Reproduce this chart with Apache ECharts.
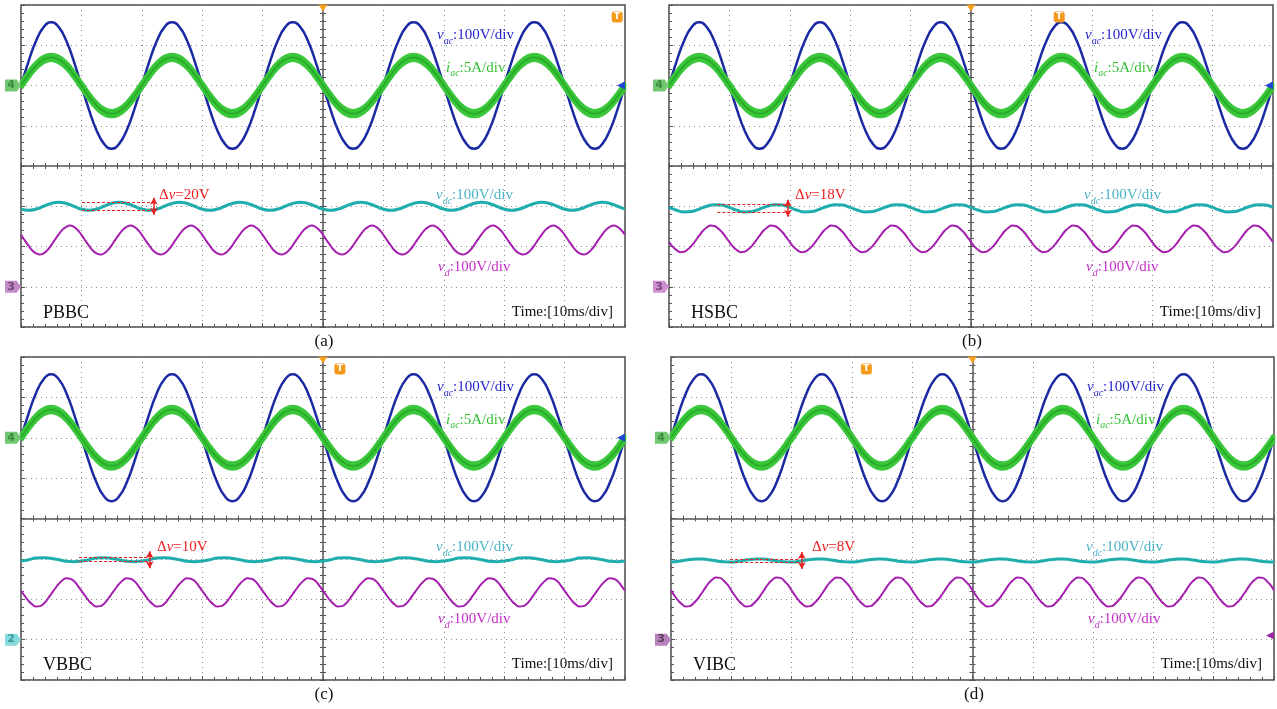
<!DOCTYPE html>
<html>
<head>
<meta charset="utf-8">
<script src="https://cdn.jsdelivr.net/npm/echarts@6/dist/echarts.min.js"></script>
<style>
html, body { margin: 0; background: #fff; }
#chart { width: 1277px; height: 709px; }
</style>
</head>
<body>
<div id="chart"></div>
<script>
// sample times in ms, trigger (centre line) at 0
const tDc = [-50, -48.75, -47.5, -46.25, -45, -43.75, -42.5, -41.25, -40, -38.75, -37.5, -36.25, -35, -33.75,
    -32.5, -31.25, -30, -28.75, -27.5, -26.25, -25, -23.75, -22.5, -21.25, -20, -18.75, -17.5, -16.25, -15,
    -13.75, -12.5, -11.25, -10, -8.75, -7.5, -6.25, -5, -3.75, -2.5, -1.25, 0, 1.25, 2.5, 3.75, 5, 6.25, 7.5,
    8.75, 10, 11.25, 12.5, 13.75, 15, 16.25, 17.5, 18.75, 20, 21.25, 22.5, 23.75, 25, 26.25, 27.5, 28.75, 30,
    31.25, 32.5, 33.75, 35, 36.25, 37.5, 38.75, 40, 41.25, 42.5, 43.75, 45, 46.25, 47.5, 48.75, 50];
const tFine = [
    -50, -49.375, -48.75, -48.125, -47.5, -46.875, -46.25, -45.625, -45, -44.375, -43.75, -43.125, -42.5, -41.875, -41.25, -40.625,
    -40, -39.375, -38.75, -38.125, -37.5, -36.875, -36.25, -35.625, -35, -34.375, -33.75, -33.125, -32.5, -31.875, -31.25, -30.625,
    -30, -29.375, -28.75, -28.125, -27.5, -26.875, -26.25, -25.625, -25, -24.375, -23.75, -23.125, -22.5, -21.875, -21.25, -20.625,
    -20, -19.375, -18.75, -18.125, -17.5, -16.875, -16.25, -15.625, -15, -14.375, -13.75, -13.125, -12.5, -11.875, -11.25, -10.625,
    -10, -9.375, -8.75, -8.125, -7.5, -6.875, -6.25, -5.625, -5, -4.375, -3.75, -3.125, -2.5, -1.875, -1.25, -0.625,
    0, 0.625, 1.25, 1.875, 2.5, 3.125, 3.75, 4.375, 5, 5.625, 6.25, 6.875, 7.5, 8.125, 8.75, 9.375,
    10, 10.625, 11.25, 11.875, 12.5, 13.125, 13.75, 14.375, 15, 15.625, 16.25, 16.875, 17.5, 18.125, 18.75, 19.375,
    20, 20.625, 21.25, 21.875, 22.5, 23.125, 23.75, 24.375, 25, 25.625, 26.25, 26.875, 27.5, 28.125, 28.75, 29.375,
    30, 30.625, 31.25, 31.875, 32.5, 33.125, 33.75, 34.375, 35, 35.625, 36.25, 36.875, 37.5, 38.125, 38.75, 39.375,
    40, 40.625, 41.25, 41.875, 42.5, 43.125, 43.75, 44.375, 45, 45.625, 46.25, 46.875, 47.5, 48.125, 48.75, 49.375,
    50];

// grid voltage (V) and current (A) on tDc, same in all four captures
const vac = [0, 60, 111, 145, 157, 145, 111, 60, 0, -60, -111, -145, -157, -145, -111, -60,
    0, 60, 111, 145, 157, 145, 111, 60, 0, -60, -111, -145, -157, -145, -111, -60,
    0, 60, 111, 145, 157, 145, 111, 60, 0, -60, -111, -145, -157, -145, -111, -60,
    0, 60, 111, 145, 157, 145, 111, 60, 0, -60, -111, -145, -157, -145, -111, -60,
    0, 60, 111, 145, 157, 145, 111, 60, 0, -60, -111, -145, -157, -145, -111, -60, 0];
const iac = [0, 1.34, 2.47, 3.23, 3.5, 3.23, 2.47, 1.34, 0, -1.34, -2.47, -3.23, -3.5, -3.23, -2.47, -1.34,
    0, 1.34, 2.47, 3.23, 3.5, 3.23, 2.47, 1.34, 0, -1.34, -2.47, -3.23, -3.5, -3.23, -2.47, -1.34,
    0, 1.34, 2.47, 3.23, 3.5, 3.23, 2.47, 1.34, 0, -1.34, -2.47, -3.23, -3.5, -3.23, -2.47, -1.34,
    0, 1.34, 2.47, 3.23, 3.5, 3.23, 2.47, 1.34, 0, -1.34, -2.47, -3.23, -3.5, -3.23, -2.47, -1.34,
    0, 1.34, 2.47, 3.23, 3.5, 3.23, 2.47, 1.34, 0, -1.34, -2.47, -3.23, -3.5, -3.23, -2.47, -1.34, 0];
// half width of the switching ripple band on iac (A)
const iacRipple = 0.3;

// dc bus voltage vdc (V) on tDc
const vdcA = [193, 190, 193, 200, 207, 210, 207, 200, 193, 190, 193, 200, 207, 210, 207, 200,
    193, 190, 193, 200, 207, 210, 207, 200, 193, 190, 193, 200, 207, 210, 207, 200,
    193, 190, 193, 200, 207, 210, 207, 200, 193, 190, 193, 200, 207, 210, 207, 200,
    193, 190, 193, 200, 207, 210, 207, 200, 193, 190, 193, 200, 207, 210, 207, 200,
    193, 190, 193, 200, 207, 210, 207, 200, 193, 190, 193, 200, 207, 210, 207, 200, 193];
const vdcB = [197, 190, 186, 187, 193, 200, 204, 203, 197, 190, 186, 187, 193, 200, 204, 203,
    197, 190, 186, 187, 193, 200, 204, 203, 197, 190, 186, 187, 193, 200, 204, 203,
    197, 190, 186, 187, 193, 200, 204, 203, 197, 190, 186, 187, 193, 200, 204, 203,
    197, 190, 186, 187, 193, 200, 204, 203, 197, 190, 186, 187, 193, 200, 204, 203,
    197, 190, 186, 187, 193, 200, 204, 203, 197, 190, 186, 187, 193, 200, 204, 203, 197];
const vdcC = [195, 198, 202, 203, 201, 198, 194, 193, 195, 198, 202, 203, 201, 198, 194, 193,
    195, 198, 202, 203, 201, 198, 194, 193, 195, 198, 202, 203, 201, 198, 194, 193,
    195, 198, 202, 203, 201, 198, 194, 193, 195, 198, 202, 203, 201, 198, 194, 193,
    195, 198, 202, 203, 201, 198, 194, 193, 195, 198, 202, 203, 201, 198, 194, 193,
    195, 198, 202, 203, 201, 198, 194, 193, 195, 198, 202, 203, 201, 198, 194, 193, 195];
const vdcD = [192, 194, 197, 199, 200, 198, 195, 193, 192, 194, 197, 199, 200, 198, 195, 193,
    192, 194, 197, 199, 200, 198, 195, 193, 192, 194, 197, 199, 200, 198, 195, 193,
    192, 194, 197, 199, 200, 198, 195, 193, 192, 194, 197, 199, 200, 198, 195, 193,
    192, 194, 197, 199, 200, 198, 195, 193, 192, 194, 197, 199, 200, 198, 195, 193,
    192, 194, 197, 199, 200, 198, 195, 193, 192, 194, 197, 199, 200, 198, 195, 193, 192];

// decoupling capacitor voltage vd (V) on tFine
const vdA = [129, 115, 102, 90, 83, 80, 83, 91, 103, 117, 130, 142, 149, 152, 149, 141,
    129, 115, 102, 90, 83, 80, 83, 91, 103, 117, 130, 142, 149, 152, 149, 141,
    129, 115, 102, 90, 83, 80, 83, 91, 103, 117, 130, 142, 149, 152, 149, 141,
    129, 115, 102, 90, 83, 80, 83, 91, 103, 117, 130, 142, 149, 152, 149, 141,
    129, 115, 102, 90, 83, 80, 83, 91, 103, 117, 130, 142, 149, 152, 149, 141,
    129, 115, 102, 90, 83, 80, 83, 91, 103, 117, 130, 142, 149, 152, 149, 141,
    129, 115, 102, 90, 83, 80, 83, 91, 103, 117, 130, 142, 149, 152, 149, 141,
    129, 115, 102, 90, 83, 80, 83, 91, 103, 117, 130, 142, 149, 152, 149, 141,
    129, 115, 102, 90, 83, 80, 83, 91, 103, 117, 130, 142, 149, 152, 149, 141,
    129, 115, 102, 90, 83, 80, 83, 91, 103, 117, 130, 142, 149, 152, 149, 141, 129];
const vdB = [111, 99, 91, 86, 87, 93, 102, 114, 127, 139, 147, 152, 151, 145, 136, 124,
    111, 99, 91, 86, 87, 93, 102, 114, 127, 139, 147, 152, 151, 145, 136, 124,
    111, 99, 91, 86, 87, 93, 102, 114, 127, 139, 147, 152, 151, 145, 136, 124,
    111, 99, 91, 86, 87, 93, 102, 114, 127, 139, 147, 152, 151, 145, 136, 124,
    111, 99, 91, 86, 87, 93, 102, 114, 127, 139, 147, 152, 151, 145, 136, 124,
    111, 99, 91, 86, 87, 93, 102, 114, 127, 139, 147, 152, 151, 145, 136, 124,
    111, 99, 91, 86, 87, 93, 102, 114, 127, 139, 147, 152, 151, 145, 136, 124,
    111, 99, 91, 86, 87, 93, 102, 114, 127, 139, 147, 152, 151, 145, 136, 124,
    111, 99, 91, 86, 87, 93, 102, 114, 127, 139, 147, 152, 151, 145, 136, 124,
    111, 99, 91, 86, 87, 93, 102, 114, 127, 139, 147, 152, 151, 145, 136, 124, 111];
const vdC = [121, 108, 96, 87, 82, 83, 89, 100, 113, 126, 138, 147, 152, 151, 145, 134,
    121, 108, 96, 87, 82, 83, 89, 100, 113, 126, 138, 147, 152, 151, 145, 134,
    121, 108, 96, 87, 82, 83, 89, 100, 113, 126, 138, 147, 152, 151, 145, 134,
    121, 108, 96, 87, 82, 83, 89, 100, 113, 126, 138, 147, 152, 151, 145, 134,
    121, 108, 96, 87, 82, 83, 89, 100, 113, 126, 138, 147, 152, 151, 145, 134,
    121, 108, 96, 87, 82, 83, 89, 100, 113, 126, 138, 147, 152, 151, 145, 134,
    121, 108, 96, 87, 82, 83, 89, 100, 113, 126, 138, 147, 152, 151, 145, 134,
    121, 108, 96, 87, 82, 83, 89, 100, 113, 126, 138, 147, 152, 151, 145, 134,
    121, 108, 96, 87, 82, 83, 89, 100, 113, 126, 138, 147, 152, 151, 145, 134,
    121, 108, 96, 87, 82, 83, 89, 100, 113, 126, 138, 147, 152, 151, 145, 134, 121];
const vdD = [122, 108, 96, 87, 82, 83, 90, 100, 113, 127, 140, 149, 154, 153, 146, 136,
    122, 108, 96, 87, 82, 83, 90, 100, 113, 127, 140, 149, 154, 153, 146, 136,
    122, 108, 96, 87, 82, 83, 90, 100, 113, 127, 140, 149, 154, 153, 146, 136,
    122, 108, 96, 87, 82, 83, 90, 100, 113, 127, 140, 149, 154, 153, 146, 136,
    122, 108, 96, 87, 82, 83, 90, 100, 113, 127, 140, 149, 154, 153, 146, 136,
    122, 108, 96, 87, 82, 83, 90, 100, 113, 127, 140, 149, 154, 153, 146, 136,
    122, 108, 96, 87, 82, 83, 90, 100, 113, 127, 140, 149, 154, 153, 146, 136,
    122, 108, 96, 87, 82, 83, 90, 100, 113, 127, 140, 149, 154, 153, 146, 136,
    122, 108, 96, 87, 82, 83, 90, 100, 113, 127, 140, 149, 154, 153, 146, 136,
    122, 108, 96, 87, 82, 83, 90, 100, 113, 127, 140, 149, 154, 153, 146, 136, 122];

// scope channel settings: units per division and ground marker position (div)
const chVac = { scale: 100, offset: 2 };
const chIac = { scale: 5, offset: 2 };
const chDc = { scale: 100, offset: -3 };

const SERIF = '"Liberation Serif", "Times New Roman", serif';

const panels = [
    { left: 21, top: 5, width: 604, height: 322, name: 'PBBC', cap: '(a)', vdc: vdcA, vd: vdA,
      dv: { hi: 210, lo: 190, t0: -39.9, t1: -28.3, text: '20V', lx: 138 },
      trig: [48.7, 3.7], refOn: 'vd', ref: { n: '3', fill: '#c58ac8', ink: '#6e4a70' }, arrow: 'vac' },
    { left: 669, top: 5, width: 604, height: 322, name: 'HSBC', cap: '(b)', vdc: vdcB, vd: vdB,
      dv: { hi: 204, lo: 186, t0: -42.0, t1: -30.6, text: '18V', lx: 126 },
      trig: [14.6, 3.7], refOn: 'vd', ref: { n: '3', fill: '#cf8fd2', ink: '#7a4a7c' }, arrow: 'vac' },
    { left: 21, top: 357, width: 604, height: 323, name: 'VBBC', cap: '(c)', vdc: vdcC, vd: vdC,
      dv: { hi: 203, lo: 193, t0: -40.4, t1: -29.0, text: '10V', lx: 136 },
      trig: [2.8, 3.7], refOn: 'vdc', ref: { n: '2', fill: '#86dada', ink: '#3a9a9a' }, arrow: 'vac' },
    { left: 671, top: 357, width: 603, height: 323, name: 'VIBC', cap: '(d)', vdc: vdcD, vd: vdD,
      dv: { hi: 200, lo: 192, t0: -40.2, t1: -28.6, text: '8V', lx: 141 },
      trig: [-17.6, 3.7], refOn: 'vd', ref: { n: '3', fill: '#b77fbb', ink: '#5e3f61' }, arrow: 'vd' }
];

function toDiv(ts, vals, ch, shift) {
    return ts.map((t, i) => [t, (vals[i] + (shift || 0)) / ch.scale + ch.offset]);
}

function richStyle(color) {
    return {
        v: { fill: color, fontFamily: SERIF, fontStyle: 'italic', fontSize: 15, lineHeight: 18, verticalAlign: 'top' },
        s: { fill: color, fontFamily: SERIF, fontStyle: 'italic', fontSize: 10, lineHeight: 10, verticalAlign: 'bottom' },
        n: { fill: color, fontFamily: SERIF, fontSize: 15, lineHeight: 18, verticalAlign: 'top' }
    };
}

function label(x, y, text, color) {
    return {
        type: 'text', x: x, y: y, z: 100, silent: true,
        style: { text: text, rich: richStyle(color), fill: color, font: '15px ' + SERIF,
                 align: 'left', verticalAlign: 'middle', textAlign: 'left', textVerticalAlign: 'middle' }
    };
}

function plain(x, y, text, size, align) {
    return {
        type: 'text', x: x, y: y, z: 100, silent: true,
        style: { text: text, fill: '#111', font: size + 'px ' + SERIF,
                 align: align, verticalAlign: 'middle', textAlign: align, textVerticalAlign: 'middle' }
    };
}

const flagPath = 'path://M0,0 L11,0 L15,6 L11,12 L0,12 Z';

const option = { animation: false, grid: [], xAxis: [], yAxis: [], series: [], graphic: [] };

panels.forEach((p, k) => {
    option.grid.push({ left: p.left, top: p.top, width: p.width, height: p.height, show: true,
        borderColor: '#4a4a4a', borderWidth: 1.5, backgroundColor: '#fff' });

    const tickStyle = { color: '#555', width: 1 };
    const xBase = { type: 'value', gridIndex: k, min: -50, max: 50, interval: 10,
        axisLabel: { show: false }, splitLine: { show: false } };
    const yBase = { type: 'value', gridIndex: k, min: -4, max: 4, interval: 1,
        axisLabel: { show: false }, splitLine: { show: false } };
    const grat = { show: true, lineStyle: { color: '#8c8c8c', width: 1, type: [1, 4] } };

    // frame ticks and dotted graticule
    option.xAxis.push(Object.assign({}, xBase, { position: 'bottom', splitLine: grat,
        axisLine: { show: false, onZero: false },
        axisTick: { show: true, inside: true, length: 4, lineStyle: tickStyle },
        minorTick: { show: true, splitNumber: 5, length: 3, lineStyle: tickStyle } }));
    // centre horizontal line, ticks on both sides
    option.xAxis.push(Object.assign({}, xBase, { position: 'bottom',
        axisLine: { show: true, onZero: true, lineStyle: { color: '#555', width: 1.5 } },
        axisTick: { show: true, inside: false, length: 3, lineStyle: tickStyle },
        minorTick: { show: true, splitNumber: 5, length: 3, lineStyle: tickStyle } }));
    option.xAxis.push(Object.assign({}, xBase, { position: 'top',
        axisLine: { show: false, onZero: true },
        axisTick: { show: true, inside: false, length: 3, lineStyle: tickStyle },
        minorTick: { show: true, splitNumber: 5, length: 3, lineStyle: tickStyle } }));

    option.yAxis.push(Object.assign({}, yBase, { position: 'left', splitLine: grat,
        axisLine: { show: false, onZero: false },
        axisTick: { show: true, inside: true, length: 4, lineStyle: tickStyle },
        minorTick: { show: true, splitNumber: 5, length: 3, lineStyle: tickStyle } }));
    option.yAxis.push(Object.assign({}, yBase, { position: 'left',
        axisLine: { show: true, onZero: true, lineStyle: { color: '#555', width: 1.5 } },
        axisTick: { show: true, inside: false, length: 3, lineStyle: tickStyle },
        minorTick: { show: true, splitNumber: 5, length: 3, lineStyle: tickStyle } }));
    option.yAxis.push(Object.assign({}, yBase, { position: 'right',
        axisLine: { show: false, onZero: true },
        axisTick: { show: true, inside: false, length: 3, lineStyle: tickStyle },
        minorTick: { show: true, splitNumber: 5, length: 3, lineStyle: tickStyle } }));

    const ax = { xAxisIndex: 3 * k, yAxisIndex: 3 * k, type: 'line', smooth: 0.5, symbol: 'none', silent: true };

    const refMark = {
        coord: [-50, chDc.offset], symbol: flagPath, symbolSize: [16, 12],
        symbolOffset: [-8, 0], itemStyle: { color: p.ref.fill },
        label: { show: true, position: 'inside', formatter: p.ref.n, color: p.ref.ink, fontSize: 11,
                 fontWeight: 'bold', fontFamily: 'DejaVu Sans', offset: [-2, 0] }
    };
    const arrowMark = (y, color) => ({ coord: [50, y], symbol: 'triangle', symbolRotate: 90,
        symbolSize: [8, 8], symbolOffset: [-4, 0], itemStyle: { color: color }, label: { show: false } });

    const vacMarks = [
        { coord: [-50, chVac.offset], symbol: flagPath, symbolSize: [16, 12], symbolOffset: [-8, 0],
          itemStyle: { color: '#72c872' },
          label: { show: true, position: 'inside', formatter: '4', color: '#3d8a3d', fontSize: 11,
                   fontWeight: 'bold', fontFamily: 'DejaVu Sans', offset: [-2, 0] } },
        { coord: [0, 4], symbol: 'triangle', symbolRotate: 180, symbolSize: [9, 7], symbolOffset: [0, 3],
          itemStyle: { color: '#f5a01e' }, label: { show: false } },
        { coord: p.trig, symbol: 'roundRect', symbolSize: [11, 11], itemStyle: { color: '#f39a1c' },
          label: { show: true, position: 'inside', formatter: 'T', color: '#fff', fontSize: 9,
                   fontWeight: 'bold', fontFamily: 'DejaVu Sans' } }
    ];
    if (p.arrow === 'vac') vacMarks.push(arrowMark(chVac.offset, '#2143d6'));

    option.series.push(Object.assign({}, ax, { name: 'vac', data: toDiv(tDc, vac, chVac),
        lineStyle: { color: '#1b2aa3', width: 2.5 },
        markPoint: { silent: true, data: vacMarks } }));

    // current: ripple band (upper / lower envelope), bright fill, darker core on top
    option.series.push(Object.assign({}, ax, { name: 'iacHi', data: toDiv(tDc, iac, chIac, iacRipple),
        lineStyle: { color: '#3cc83c', width: 4.5 } }));
    option.series.push(Object.assign({}, ax, { name: 'iacLo', data: toDiv(tDc, iac, chIac, -iacRipple),
        lineStyle: { color: '#3cc83c', width: 4.5 } }));
    option.series.push(Object.assign({}, ax, { name: 'iac', data: toDiv(tDc, iac, chIac),
        lineStyle: { color: '#35c235', width: 4 } }));
    option.series.push(Object.assign({}, ax, { name: 'iacCore', data: toDiv(tDc, iac, chIac),
        lineStyle: { color: '#1f961f', width: 1.2, opacity: 0.7 } }));

    const dv = p.dv;
    const dvy = (v) => v / chDc.scale + chDc.offset;
    const mid = (dv.hi + dv.lo) / 2;
    const dash = { color: '#e52222', width: 1, type: [3, 2] };
    const solid = { color: '#e52222', width: 1.5, type: 'solid' };
    option.series.push(Object.assign({}, ax, { name: 'vdc', data: toDiv(tDc, p.vdc, chDc),
        lineStyle: { color: '#1fadad', width: 3 },
        markPoint: { silent: true, data: p.refOn === 'vdc' ? [refMark] : [] },
        markLine: { silent: true, symbol: 'none', label: { show: false }, data: [
            [{ coord: [dv.t0, dvy(dv.hi)], lineStyle: dash }, { coord: [dv.t1, dvy(dv.hi)], lineStyle: dash }],
            [{ coord: [dv.t0, dvy(dv.lo)], lineStyle: dash }, { coord: [dv.t1, dvy(dv.lo)], lineStyle: dash }],
            [{ coord: [dv.t1 + 0.3, dvy(mid + 21)], symbol: 'arrow', symbolSize: [6, 7], lineStyle: solid },
             { coord: [dv.t1 + 0.3, dvy(mid - 21)], symbol: 'arrow', symbolSize: [6, 7], lineStyle: solid }]
        ] } }));

    const vdMarks = [];
    if (p.refOn === 'vd') vdMarks.push(refMark);
    if (p.arrow === 'vd') vdMarks.push(arrowMark(-2.9, '#9a2aa0'));
    option.series.push(Object.assign({}, ax, { name: 'vd', data: toDiv(tFine, p.vd, chDc),
        lineStyle: { color: '#a41fad', width: 2 },
        markPoint: { silent: true, data: vdMarks } }));

    // texts
    const L = p.left, T = p.top;
    option.graphic.push(label(L + 416, T + 32, '{v|v}{s|ac}{n|:100V/div}', '#2424cc'));
    option.graphic.push(label(L + 425, T + 64.5, '{v|i}{s|ac}{n|:5A/div}', '#35bf35'));
    option.graphic.push(label(L + 415, T + 192, '{v|v}{s|dc}{n|:100V/div}', '#4eb2c6'));
    option.graphic.push(label(L + 417, T + 264, '{v|v}{s|d}{n|:100V/div}', '#c42fc4'));
    option.graphic.push(label(L + dv.lx, T + 191.5, '{n|Δ}{v|v}{n|=' + dv.text + '}', '#ee2020'));
    option.graphic.push(plain(L + 22, T + 308, p.name, 18, 'left'));
    option.graphic.push(plain(L + p.width - 12, T + 307.5, 'Time:[10ms/div]', 15, 'right'));
    option.graphic.push(plain(L + 303, T + p.height + 15, p.cap, 17, 'center'));
});

const chart = echarts.init(document.getElementById('chart'));
chart.setOption(option);
</script>
</body>
</html>
